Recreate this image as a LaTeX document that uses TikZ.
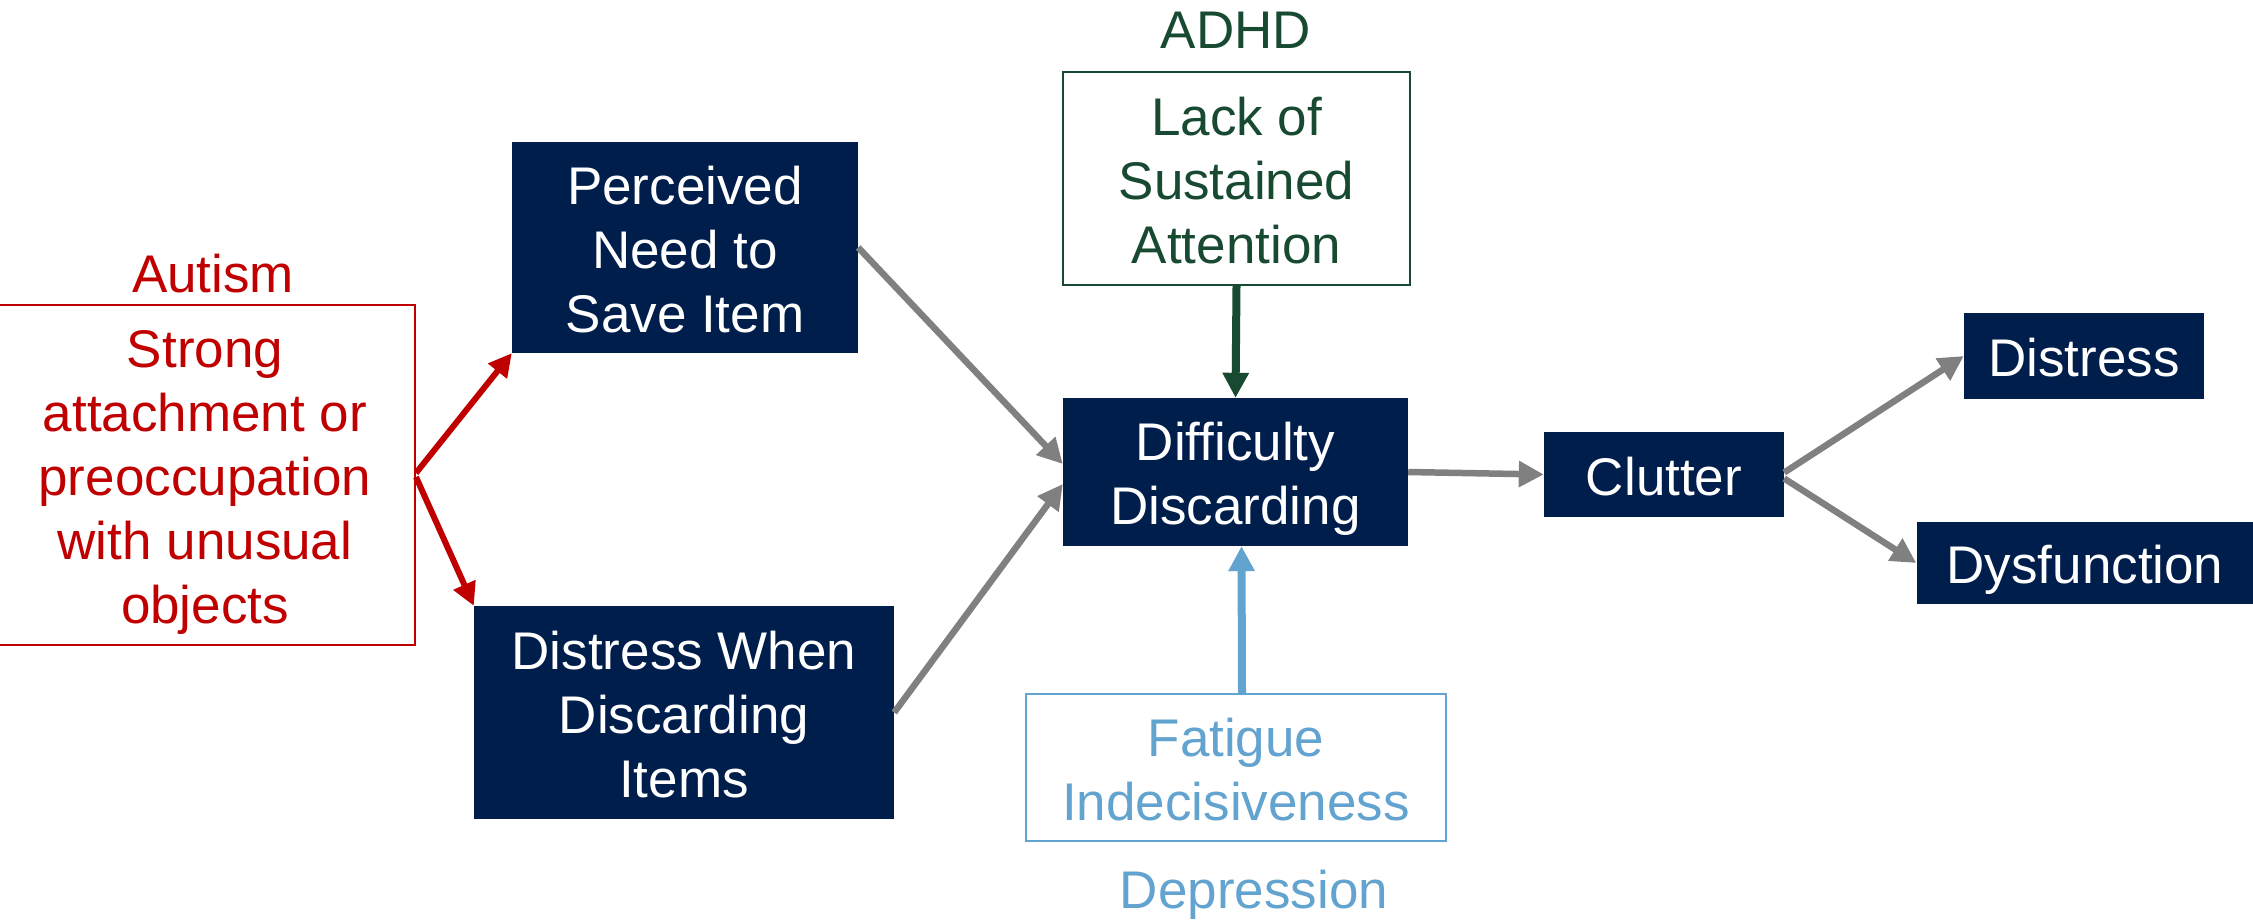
\documentclass[tikz,border=0pt]{standalone}
\usepackage{fontspec}
\setmainfont{Liberation Sans}
\usetikzlibrary{arrows.meta}
\definecolor{navy}{HTML}{001E4B}
\definecolor{autred}{HTML}{C00000}
\definecolor{adhdgreen}{HTML}{184A32}
\definecolor{depblue}{HTML}{62A3CF}
\definecolor{arrgray}{HTML}{808080}
\newcommand{\lnstrut}{\rule[-11pt]{0pt}{63pt}}
\begin{document}
\begin{tikzpicture}[x=1pt,y=-1pt,
  txt/.style={font=\fontsize{53}{64}\selectfont, align=center, inner sep=0pt},
  navybox/.style={txt, fill=navy, text=white},
  redbox/.style={txt, draw=autred, line width=2pt, fill=white, text=autred},
  greenbox/.style={txt, draw=adhdgreen, line width=2pt, fill=white, text=adhdgreen},
  bluebox/.style={txt, draw=depblue, line width=2pt, fill=white, text=depblue},
  grayarrow/.style={draw=arrgray, line width=6.5pt, -{Triangle[length=25pt,width=25pt]}},
  redarrow/.style={draw=autred, line width=6pt, -{Triangle[length=23pt,width=23pt]}},
  greenarrow/.style={draw=adhdgreen, line width=8pt, -{Triangle[length=25pt,width=25pt]}},
  bluearrow/.style={draw=depblue, line width=8pt, -{Triangle[length=25pt,width=25pt]}}
]
\useasboundingbox (0,0) rectangle (2253,921);

\node[redbox, minimum width=420pt, minimum height=340pt] (aut) at (205,475) {\lnstrut Strong\\\lnstrut attachment or\\\lnstrut preoccupation\\\lnstrut with unusual\\\lnstrut objects};
\node[txt, text=autred, anchor=base] (autl) at (213,292) {Autism};

\node[navybox, minimum width=346pt, minimum height=211pt] (perc) at (685,247.5) {\lnstrut Perceived\\\lnstrut Need to\\\lnstrut Save Item};
\node[navybox, minimum width=420pt, minimum height=213pt] (dwd) at (684,712.5) {\lnstrut Distress When\\\lnstrut Discarding\\\lnstrut Items};

\node[greenbox, minimum width=347pt, minimum height=213pt] (lack) at (1236.5,178.5) {\lnstrut Lack of\\\lnstrut Sustained\\\lnstrut Attention};
\node[txt, text=adhdgreen, anchor=base] (adhd) at (1236,48) {ADHD};

\node[navybox, minimum width=345pt, minimum height=148pt] (dd) at (1235.5,472) {\lnstrut Difficulty\\\lnstrut Discarding};

\node[bluebox, minimum width=420pt, minimum height=147pt] (fat) at (1236,767.5) {\lnstrut Fatigue\\\lnstrut Indecisiveness};
\node[txt, text=depblue, anchor=base] (dep) at (1254,908) {Depression};

\node[navybox, minimum width=240pt, minimum height=85pt] (clut) at (1664,474.5) {\lnstrut Clutter};
\node[navybox, minimum width=240pt, minimum height=86pt] (dis) at (2084,356) {\lnstrut Distress};
\node[navybox, minimum width=337pt, minimum height=82pt] (dys) at (2085,563) {\lnstrut Dysfunction};

\draw[redarrow] ([yshift=2pt]aut.east) -- (perc.south west);
\draw[redarrow] ([yshift=-2pt]aut.east) -- (dwd.north west);
\draw[grayarrow] (perc.east) -- ([yshift=8pt]dd.west);
\draw[grayarrow] (dwd.east) -- ([yshift=-12pt]dd.west);
\draw[greenarrow] (lack.south) -- (dd.north);
\draw[bluearrow] ([xshift=6pt]fat.north) -- ([xshift=6pt]dd.south);
\draw[grayarrow] (dd.east) -- (clut.west);
\draw[grayarrow] ([yshift=2pt]clut.east) -- (dis.west);
\draw[grayarrow] ([yshift=-4pt]clut.east) -- (dys.west);
\end{tikzpicture}
\end{document}
